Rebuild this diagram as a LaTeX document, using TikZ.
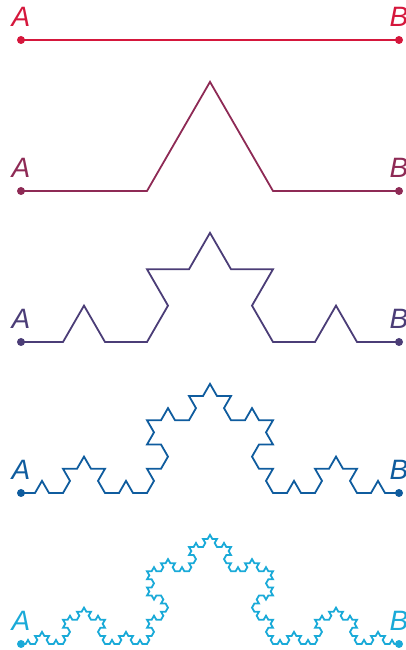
\documentclass[tikz,border=0pt]{standalone}
\usepackage{fontspec}
\newfontfamily\labfont{Liberation Sans}
\definecolor{c0}{HTML}{D5173C}
\definecolor{c1}{HTML}{8E2A55}
\definecolor{c2}{HTML}{4B3D77}
\definecolor{c3}{HTML}{0F5C9E}
\definecolor{c4}{HTML}{1AAAD8}
\newcount\kang
\def\kochseg#1#2{%
  \ifnum#1=0
    \xdef\kpath{\kpath -- ++(\the\kang:#2)}%
  \else
    \pgfmathsetmacro\ksub{#2/3}%
    \edef\kargs{{\the\numexpr#1-1\relax}{\ksub}}%
    \expandafter\kochstep\kargs
  \fi}
\def\kochstep#1#2{%
  \kochseg{#1}{#2}\global\advance\kang 60
  \kochseg{#1}{#2}\global\advance\kang -120
  \kochseg{#1}{#2}\global\advance\kang 60
  \kochseg{#1}{#2}}
\tikzset{
  curve/.style={line width=1.8pt, line join=miter},
  enddot/.style={circle, fill, inner sep=0pt, minimum size=8pt},
  lab/.style={font=\labfont\itshape\fontsize{28}{28}\selectfont, anchor=base, inner sep=0pt}
}
\begin{document}
\begin{tikzpicture}[x=1pt,y=1pt]
\useasboundingbox (0,0) rectangle (406,650);
\foreach \n/\yy/\c in {0/610/c0, 1/459/c1, 2/308/c2, 3/157/c3, 4/6/c4}{
  \coordinate (A\n) at (21,\yy);
  \coordinate (B\n) at (399,\yy);
  \gdef\kpath{}\global\kang=0
  \kochseg{\n}{378}
  \draw[curve, \c] (A\n) \kpath;
  \node[enddot, \c] (dA\n) at (A\n) {};
  \node[enddot, \c] (dB\n) at (B\n) {};
  \node[lab, text=\c] (lA\n) at ([yshift=13pt]A\n) {A};
  \node[lab, text=\c] (lB\n) at ([yshift=13pt]B\n) {B};
}
\end{tikzpicture}
\end{document}
